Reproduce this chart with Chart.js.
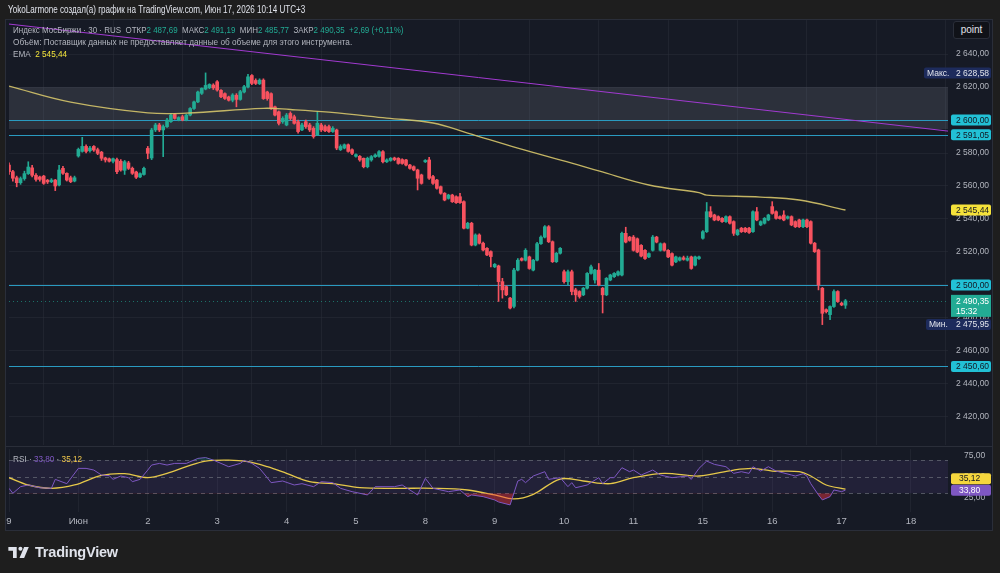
<!DOCTYPE html>
<html><head><meta charset="utf-8">
<script src="https://cdn.jsdelivr.net/npm/chart.js@4.4.1/dist/chart.umd.min.js"></script>
<style>
html,body{margin:0;padding:0;background:#1e1e1e;width:1000px;height:573px;overflow:hidden;font-family:"Liberation Sans",Arial,sans-serif;}
#panel{position:absolute;left:5px;top:19px;width:988px;height:512px;background:#161a25;border:1px solid #2a2e39;box-sizing:border-box}
#sep{position:absolute;left:5px;top:446px;width:988px;height:1px;background:#2a2e39}
canvas{position:absolute;left:0}
.t{position:absolute;white-space:nowrap;transform-origin:0 50%;}
</style></head><body>
<div id="panel"></div>
<div id="sep"></div>
<canvas id="main" width="1000" height="425" style="top:20px"></canvas>
<canvas id="rsi" width="1000" height="84" style="top:447px"></canvas>

<div class="t" style="left:8px;top:4px;font-size:10px;color:#e0e3eb;transform:scaleX(0.81)">YokoLarmone создал(а) график на TradingView.com, Июн 17, 2026 10:14 UTC+3</div>
<div class="t" style="left:13px;top:24px;font-size:9.5px;color:#b2b5be;transform:scaleX(0.84)">Индекс МосБиржи · 30 · RUS&nbsp; ОТКР<span style="color:#22ab94">2 487,69</span>&nbsp; МАКС<span style="color:#22ab94">2 491,19</span>&nbsp; МИН<span style="color:#22ab94">2 485,77</span>&nbsp; ЗАКР<span style="color:#22ab94">2 490,35</span>&nbsp; <span style="color:#22ab94">+2,69 (+0,11%)</span></div>
<div class="t" style="left:13px;top:36px;font-size:9.5px;color:#b2b5be;transform:scaleX(0.865)">Объём: Поставщик данных не предоставляет данные об объеме для этого инструмента.</div>
<div class="t" style="left:13px;top:48px;font-size:9.5px;color:#b2b5be;transform:scaleX(0.86)">EMA&nbsp; <span style="color:#f2e33b">2 545,44</span></div>
<div class="t" style="left:13px;top:453px;font-size:9.5px;color:#b2b5be;transform:scaleX(0.86)">RSI · <span style="color:#7e57c2">33,80</span> · <span style="color:#f2c94c">35,12</span></div>
<div class="t" style="left:953px;top:21px;width:37px;height:18px;background:#101218;border:1px solid #2a2e39;border-radius:3px;box-sizing:border-box;color:#e0e3eb;font-size:10px;text-align:center;line-height:16px">point</div>
<div class="t" style="left:8px;top:543px;height:18px;display:flex;align-items:center;">
<svg width="23" height="13" viewBox="0 0 24 14"><path d="M0 1h9v12H5V5H0z" fill="#e0e3eb"/><circle cx="13" cy="3" r="2.2" fill="#e0e3eb"/><path d="M17 1h5l-5 12h-5z" fill="#e0e3eb"/></svg>
<span style="margin-left:4px;font-size:14.5px;font-weight:bold;color:#e0e3eb;letter-spacing:-0.2px">TradingView</span></div>

<script>
// ---- data ----
const dayIdx = [0,18,36,54,72,90,108,126,144,162,180,198,216,234];
const dayLabels = ['9','Июн','2','3','4','5','8','9','10','11','15','16','17','18'];

const open = [
2572.7,2568.7,2565,2562,2564.5,2567.5,2571,2566.5,2565.5,2566,2563.5,2562.6,2563.6,2560.6,2570.7,2567.7,2565,2563,
2578.2,2581,2584,2581.4,2584,2582,2580.5,2577,2576.5,2575,2576,2575,2569.5,2574,2570.7,2568.5,2565.5,2567,
2582.8,2577,2594,2597,2594,2596,2599,2603.4,2600,2602,2600,2603,2607,2611,2616.2,2618.8,2619.6,2621.2,
2623.2,2618,2616,2614,2612,2615,2612.5,2617,2620,2627,2624,2622,2624.2,2617,2616,2608,2605,2599,
2597,2604,2602,2599,2594,2599,2597,2595,2591,2597,2596,2596,2593,2594,2582,2583,2585,2582,
2578,2578,2576.8,2571.7,2575.8,2577.8,2578,2580.8,2574.7,2575.5,2577,2576.8,2576,2575.8,2572.7,2571.7,2569.7,2566.7,
2574.7,2575.8,2565.7,2563.6,2559.6,2555.6,2552.5,2554.5,2553.5,2553.5,2550.5,2534.4,2537.4,2524.2,2530.3,2525.3,2522.2,2520.2,
2511,2511.5,2502,2499,2492,2487,2509,2516,2515,2517,2509,2515,2525,2529,2535.3,2526.2,2514.1,2519.2,
2508,2502,2508,2497,2496,2494,2498,2507,2503,2509,2498,2494,2503,2505,2506,2506,2531.3,2529,
2529,2528,2524,2521,2517,2521,2529,2521,2525,2521,2519,2514,2515,2516.5,2515,2517,2512,2516,
2528.3,2532.3,2544.4,2542.4,2541.4,2540.4,2538.4,2541.4,2538.4,2530.5,2534.4,2534.4,2534.4,2532.3,2544.4,2536.4,2537.4,2539.4,
2547.5,2544.4,2541.4,2542.4,2540.4,2541.4,2538.4,2539.4,2535.3,2539.4,2538.4,2525.3,2521.2,2498,2485,2482,2486.9,2496,
2488.9,2487.69];

const high = [
2574,2569.5,2566,2565.5,2569,2574.7,2572.5,2567.5,2566,2566.5,2564,2564.5,2564,2572.5,2572,2568,2566,2566,
2583,2589.5,2585,2584,2584.5,2583,2581,2577.5,2577,2577,2577,2576,2575.5,2575,2571.5,2569,2568,2571.5,
2584,2595,2598,2598,2597,2601,2604,2604,2602,2603,2603.5,2607.5,2611.5,2617.5,2619.5,2628.58,2622,2622,
2624,2618.5,2616.5,2614.5,2616,2616,2618,2621,2627.7,2627.5,2625,2625,2625,2617.5,2616.5,2608.5,2605.5,2602,
2604,2605,2603,2600,2598,2600,2598,2596,2605,2598,2597,2597,2596,2594.5,2585,2585.5,2585.5,2582.5,
2579.5,2578.5,2577,2577.5,2578.5,2579.5,2581.5,2581.5,2576.5,2577.3,2577.5,2577.2,2576.5,2576.2,2573.2,2572.2,2570.2,2567.2,
2576,2577.4,2566.5,2564,2560,2556,2555,2555,2554,2555.5,2551,2538,2538,2531,2531,2526,2522.7,2520.7,
2513,2512,2504,2499.5,2492.5,2510,2516,2516.5,2522,2517.5,2515.5,2525.8,2529.8,2536,2536,2526.7,2519.7,2522.7,
2509,2509,2509,2498,2496.5,2498.5,2507.5,2512,2509.5,2513,2498.5,2504.5,2506.5,2507.5,2508.5,2532,2535,2529.5,
2530,2528.5,2524.5,2521.5,2519.5,2530,2529.5,2525.5,2525.5,2521.5,2519.5,2517.5,2517,2517.5,2517.5,2517.5,2517.5,2517.5,
2533,2550,2547.5,2542.9,2541.9,2540.9,2541.9,2541.9,2538.9,2533.8,2534.9,2534.9,2534.9,2545,2547,2538.9,2540.9,2542.9,
2550.5,2544.9,2541.9,2545,2541.9,2541.9,2538.9,2539.9,2539.9,2539.9,2538.9,2525.8,2521.7,2498.5,2485.5,2487.4,2497,2496.5,
2489.5,2491.19];

const low = [
2567,2563,2559.5,2561,2563.5,2567,2565.5,2563,2563,2561,2561.5,2562,2557.2,2560,2567,2563,2562,2562.5,
2577.5,2580.5,2580,2580.5,2581,2579,2575.5,2574.5,2574.5,2574,2567.5,2569,2567,2570,2567,2564.5,2565,2566.5,
2576.5,2576,2593,2593,2577.8,2595.5,2598.5,2600.5,2599.5,2599.5,2599.5,2602.5,2606.5,2610.5,2615.5,2618.3,2619,2618.5,
2617.5,2613.5,2612.5,2611.5,2611,2608,2612,2616.5,2619.5,2621.5,2621.5,2621.5,2612.5,2612,2606.5,2602.5,2597,2598,
2596.5,2600,2597.5,2592,2593.5,2595,2593,2589,2590.5,2593,2593,2592.5,2592.5,2582,2581.5,2582.5,2580.5,2579,
2577.5,2575,2571,2571,2575,2577.3,2577.5,2574,2574.2,2575,2575.3,2573.2,2573.2,2572.2,2570.2,2569.2,2557.6,2561.1,
2574.2,2564,2561,2558,2555,2551,2552,2550,2549.4,2549.4,2534,2534,2523.7,2523.7,2524.8,2520.7,2517.7,2511,
2510.5,2490,2492,2493.5,2485.5,2486,2508.5,2514.5,2514.5,2509.5,2508.5,2514.5,2524.5,2528.5,2525.7,2513.6,2513.6,2518.7,
2501,2500,2494,2490,2492,2493.5,2497.5,2506.5,2501,2499.5,2483,2493.5,2502.5,2504.5,2505.5,2505.5,2525.5,2526.5,
2520.5,2519.5,2517,2515.5,2516.5,2520.5,2525.5,2520.5,2520.5,2516.5,2511.5,2513.5,2514.5,2515,2514.5,2509.5,2511.5,2515.5,
2527.8,2531.8,2540.9,2538.9,2538.9,2537.9,2537.9,2536.9,2530,2530,2531.8,2531.8,2531.3,2531.8,2538.9,2535.9,2536.9,2538.9,
2542.9,2539.9,2539.9,2538.9,2539.9,2535.9,2534.8,2534.8,2534.8,2534.8,2524.8,2519.7,2497,2475.95,2483,2479,2486.4,2489.4,
2487.4,2485.77];

const close = [
2568.7,2564.7,2562,2564.5,2567.5,2571.5,2566.5,2564,2564,2561.6,2562.5,2563.6,2560,2569.7,2567.7,2563.6,2562.6,2565,
2582.2,2584,2581,2583,2581.8,2579.8,2576.8,2575.8,2575,2576.5,2568.7,2569.7,2574.7,2570.7,2567.7,2565.3,2567.5,2570.7,
2579.8,2594,2597,2594,2596,2600,2603,2601,2601.5,2600,2603,2607,2611,2617,2619.2,2621,2621.6,2619.5,
2618.2,2614.1,2613.1,2612,2615.2,2612.5,2617.2,2620.2,2626.2,2622.2,2622.2,2624.2,2613,2613,2607,2603,2598,2601,
2603,2601,2598,2593,2597,2596,2594,2590,2598,2594,2593.5,2593,2595,2583,2584,2585,2581,2579.8,
2579,2575.8,2571.7,2576.8,2577.8,2578.8,2580.8,2574.7,2575.8,2576.8,2576,2573.7,2573.7,2572.7,2570.7,2569.7,2564.7,2561.6,
2575.5,2564.7,2561.6,2558.6,2555.6,2551.5,2554.5,2550.5,2549.9,2549.9,2534.4,2537.4,2524.2,2530.3,2525.3,2521.2,2518.2,2517.2,
2512.5,2502,2497,2494,2486,2509,2515,2515,2521,2510,2515,2525,2529,2535.3,2526.2,2514.1,2519.2,2522.2,
2502,2508,2496,2494,2493,2498,2507,2511,2509,2500,2494,2504,2506,2507,2508,2531.3,2526,2527,
2521,2520,2517.5,2516,2519,2529,2526,2525,2521,2517,2512,2517,2516.5,2515.5,2516.2,2510,2517,2517,
2532.3,2544.4,2541.4,2539.4,2539.4,2538.4,2541.4,2537.4,2531.3,2533.3,2532.3,2532.3,2531.8,2544.4,2539.4,2538.4,2540.4,2542.4,
2543.4,2540.4,2540.2,2539.4,2541.4,2536.4,2535.3,2535.3,2539.4,2535.3,2525.3,2520.2,2500,2482.8,2483.8,2486.9,2496,2489.9,
2487.9,2490.35];

const emaIdx = [0,16,36,46,66,73,83,98,110,119,132,146,153,166,179,181,195,205,217];
const emaVal = [2620.6,2610.9,2604.4,2604.2,2607.1,2606.4,2604.8,2601.2,2598.2,2592.1,2583.0,2573.9,2569.1,2560.6,2556,2554.5,2553.3,2551.5,2545.44];

const rsiIdx = [0,1,3,5,8,11,12,15,18,20,22,24,26,27,29,31,32,34,36,37,39,41,43,46,49,51,53,55,57,60,61,63,65,67,68,71,74,76,79,81,84,86,89,93,95,100,102,106,108,110,114,117,119,120,123,126,127,130,132,133,134,136,139,140,143,145,146,147,150,153,154,156,157,159,161,162,164,167,169,172,176,177,179,181,183,186,188,190,192,193,195,197,199,203,204,206,207,208,210,211,213,214,216,217];
const rsiVal = [36,30,38,40,36.7,36,46.8,41.6,60,60,58,52,51.2,46.8,50.8,48.8,44,46.8,58,64,66,64,66,66,72,73,70,66,62,66,69.5,66,60,48.8,42.8,44.8,40,41.6,38,44,42.8,36,32,28,38,38,40,28,48,36,32,34,26,28,26,22,19.6,16,44.8,46.8,42.8,50.8,56,46.8,48.8,38,42.8,36.7,40,48.8,41.6,48.8,48.8,60.8,56,58,52,58,52,48.8,50.8,46.8,60,68.8,64.8,62,54,56,54,62,56.8,62,56.8,52,50.8,53.6,50.8,41.6,28,22,26,34,32,33.8];

const rsiMaIdx = [0,5,11,17,24,30,36,41,46,51,57,62,67,72,78,84,91,101,110,119,126,131,136,143,149,156,162,170,179,188,193,198,205,208,212,217];
const rsiMaVal = [48.8,40,36,40,51.6,53.6,48.8,54,62,68.8,70,68,62,54,44,41.6,36.8,36,36,34,28,23.2,28.8,47.2,44.8,41.6,48.8,54,50.8,58,60,56.8,56,50.8,40,35.12];

const levels = [2600, 2591.05, 2500, 2450.6];
const zoneTop = 2620, zoneBottom = 2594.5;
const trendStart = 2658.2, trendEnd = 2593.3;
const lastPrice = 2490.35, lastTime = '15:32', emaLast = 2545.44, maxPrice = 2628.58, minPrice = 2475.95;
const rsiLast = 33.80, rsiMaLast = 35.12;
const rsiBands = [70, 50, 30];
const priceTicks = [2420,2440,2460,2480,2500,2520,2540,2560,2580,2600,2620,2640];
const rsiTicks = [25,50,75];
const X_MAX = 243.6;

// ---- styling ----
const UP = '#22ab94', DN = '#f7525f', GRID = 'rgba(42,46,57,0.55)', TXT = '#b2b5be';
const LEVEL = '#2a9ac0';
const LBL_FONT = '8.5px "Liberation Sans", Arial, sans-serif';
Chart.defaults.font.family = '"Liberation Sans", Arial, sans-serif';

function fmt(v){
  const s = Number(v).toFixed(2).split('.');
  const i = s[0];
  const g = i.length > 3 ? i.slice(0, -3) + ' ' + i.slice(-3) : i;
  return g + ',' + s[1];
}

const colors = open.map((o, i) => close[i] >= o ? UP : DN);

function box(ctx, x, yc, w, h, bg, lines, fg){
  ctx.fillStyle = bg;
  ctx.beginPath();
  if (ctx.roundRect) ctx.roundRect(x, yc - h/2, w, h, 2); else ctx.rect(x, yc - h/2, w, h);
  ctx.fill();
  ctx.fillStyle = fg;
  ctx.font = LBL_FONT;
  ctx.textBaseline = 'middle';
  lines.forEach(l => { ctx.textAlign = 'left'; ctx.fillText(l.t, l.x, l.y); });
}

const mainDeco = {
  id: 'mainDeco',
  beforeDatasetsDraw(chart){
    const {ctx, chartArea: a, scales: {y}} = chart;
    ctx.save();
    ctx.fillStyle = 'rgba(125,128,140,0.22)';
    const t = y.getPixelForValue(zoneTop), b = y.getPixelForValue(zoneBottom);
    ctx.fillRect(a.left, t, a.right - a.left, b - t);
    ctx.lineWidth = 1;
    levels.forEach(v => {
      const py = Math.round(y.getPixelForValue(v)) + 0.5;
      ctx.strokeStyle = LEVEL;
      ctx.beginPath(); ctx.moveTo(a.left, py); ctx.lineTo(a.right, py); ctx.stroke();
    });
    ctx.setLineDash([1, 3]);
    ctx.strokeStyle = 'rgba(34,171,148,0.6)';
    const py = Math.round(y.getPixelForValue(lastPrice)) + 0.5;
    ctx.beginPath(); ctx.moveTo(a.left, py); ctx.lineTo(a.right, py); ctx.stroke();
    ctx.restore();
  },
  afterDraw(chart){
    const {ctx, chartArea: a, scales: {y}} = chart;
    ctx.save();
    const bx = a.right + 3, bw = 40, tx = a.right + 8;
    const CY = '#22c1d6';
    levels.forEach(v => box(ctx, bx, y.getPixelForValue(v), bw, 11, CY, [{t: fmt(v), x: tx, y: y.getPixelForValue(v) + 0.5}], '#131722'));
    const ye = y.getPixelForValue(emaLast);
    box(ctx, bx, ye, bw, 11, '#f5e23a', [{t: fmt(emaLast), x: tx, y: ye + 0.5}], '#131722');
    const ym = y.getPixelForValue(maxPrice);
    box(ctx, a.right - 24, ym, bw + 27, 11, '#1d2b5c', [{t: 'Макс.', x: a.right - 21, y: ym + 0.5}, {t: fmt(maxPrice), x: tx, y: ym + 0.5}], '#e0e3eb');
    const yn = y.getPixelForValue(minPrice);
    box(ctx, a.right - 22, yn, bw + 25, 11, '#1d2b5c', [{t: 'Мин.', x: a.right - 19, y: yn + 0.5}, {t: fmt(minPrice), x: tx, y: yn + 0.5}], '#e0e3eb');
    const yl = y.getPixelForValue(lastPrice);
    ctx.fillStyle = UP;
    ctx.fillRect(bx, yl - 6, bw, 22);
    ctx.fillStyle = '#ffffff';
    ctx.font = LBL_FONT;
    ctx.textBaseline = 'middle'; ctx.textAlign = 'left';
    ctx.fillText(fmt(lastPrice), tx, yl + 0.5);
    ctx.fillText(lastTime, tx, yl + 11);
    ctx.restore();
  }
};

function mainCfg(){
  return {
    type: 'bar',
    data: {datasets: [
      {type: 'line', data: [{x: 0, y: trendStart}, {x: X_MAX, y: trendEnd}], borderColor: '#a23ad1', borderWidth: 1, pointRadius: 0, order: 0},
      {type: 'line', data: emaIdx.map((x, i) => ({x, y: emaVal[i]})), borderColor: 'rgba(214,197,106,0.9)', borderWidth: 1.3, pointRadius: 0, tension: 0.4, order: 1},
      {data: open.map((o, i) => ({x: i, y: [o, close[i]]})), backgroundColor: colors, barThickness: 3, grouped: false, order: 2},
      {data: open.map((o, i) => ({x: i, y: [low[i], high[i]]})), backgroundColor: colors, barThickness: 1, grouped: false, order: 3}
    ]},
    options: {
      responsive: false, animation: false, devicePixelRatio: 1,
      layout: {padding: {left: 9, right: 8, top: 0, bottom: 0}},
      plugins: {legend: {display: false}, tooltip: {enabled: false}},
      scales: {
        x: {type: 'linear', min: 0, max: X_MAX, offset: false,
            afterBuildTicks: s => { s.ticks = dayIdx.map(v => ({value: v})); },
            ticks: {display: false}, grid: {color: GRID, drawTicks: false}, border: {display: false}},
        y: {position: 'right', min: 2403, max: 2660.6,
            afterBuildTicks: s => { s.ticks = priceTicks.map(v => ({value: v})); },
            afterFit: s => { s.width = 44; },
            ticks: {color: TXT, font: {size: 8.5}, padding: 8, crossAlign: 'near', callback: v => fmt(v)},
            grid: {color: GRID, drawTicks: false}, border: {display: false}}
      }
    },
    plugins: [mainDeco]
  };
}

const rsiDeco = {
  id: 'rsiDeco',
  beforeDatasetsDraw(chart){
    const {ctx, chartArea: a, scales: {y}} = chart;
    ctx.save();
    const t = y.getPixelForValue(rsiBands[0]), b = y.getPixelForValue(rsiBands[2]);
    ctx.fillStyle = 'rgba(126,87,194,0.12)';
    ctx.fillRect(a.left, t, a.right - a.left, b - t);
    ctx.setLineDash([4, 4]);
    ctx.strokeStyle = 'rgba(120,123,134,0.6)'; ctx.lineWidth = 1;
    rsiBands.forEach(v => {
      const py = Math.round(y.getPixelForValue(v)) + 0.5;
      ctx.beginPath(); ctx.moveTo(a.left, py); ctx.lineTo(a.right, py); ctx.stroke();
    });
    ctx.restore();
  },
  afterDraw(chart){
    const {ctx, chartArea: a, scales: {y}} = chart;
    ctx.save();
    const bx = a.right + 3, bw = 40, tx = a.right + 11;
    const yr = y.getPixelForValue(rsiLast);
    box(ctx, bx, yr, bw, 11, '#7e57c2', [{t: rsiLast.toFixed(2).replace('.', ','), x: tx, y: yr + 0.5}], '#ffffff');
    const ym = yr - 11.5;
    box(ctx, bx, ym, bw, 11, '#f5d63d', [{t: rsiMaLast.toFixed(2).replace('.', ','), x: tx, y: ym + 0.5}], '#131722');
    ctx.restore();
  }
};

function rsiCfg(){
  const pts = rsiIdx.map((x, i) => ({x, y: rsiVal[i]}));
  return {
    type: 'line',
    data: {datasets: [
      {data: pts, borderColor: 'rgba(0,0,0,0)', borderWidth: 0, pointRadius: 0,
       fill: {target: {value: 70}, above: 'rgba(34,171,148,0.22)', below: 'rgba(0,0,0,0)'}},
      {data: pts, borderColor: '#7e57c2', borderWidth: 1, pointRadius: 0, tension: 0,
       fill: {target: {value: 30}, above: 'rgba(0,0,0,0)', below: 'rgba(242,54,69,0.45)'}},
      {data: rsiMaIdx.map((x, i) => ({x, y: rsiMaVal[i]})), borderColor: '#e6c84a', borderWidth: 1.3, pointRadius: 0, tension: 0.35, fill: false}
    ]},
    options: {
      responsive: false, animation: false, devicePixelRatio: 1,
      layout: {padding: {left: 9, right: 8, top: 0, bottom: 0}},
      plugins: {legend: {display: false}, tooltip: {enabled: false}},
      scales: {
        x: {type: 'linear', min: 0, max: X_MAX, offset: false,
            afterBuildTicks: s => { s.ticks = dayIdx.map(v => ({value: v})); },
            afterFit: s => { s.height = 19; },
            ticks: {color: TXT, font: {size: 9.5}, padding: 4, autoSkip: false, maxRotation: 0,
                    callback: v => { const k = dayIdx.indexOf(v); return k >= 0 ? dayLabels[k] : ''; }},
            grid: {color: GRID, drawTicks: false}, border: {display: false}},
        y: {position: 'right', min: 7.5, max: 83.2,
            afterBuildTicks: s => { s.ticks = rsiTicks.map(v => ({value: v})); },
            afterFit: s => { s.width = 44; },
            ticks: {color: TXT, font: {size: 8.5}, padding: 8, crossAlign: 'near', callback: v => fmt(v)},
            grid: {display: false}, border: {display: false}}
      }
    },
    plugins: [rsiDeco]
  };
}

// place each chart so its plot area lands on the wanted page rows
function mount(id, makeCfg, plotTop, plotBottom){
  const cv = document.getElementById(id);
  const H0 = 400;
  cv.width = 1000; cv.height = H0; cv.style.width = '1000px'; cv.style.height = H0 + 'px';
  let ch = new Chart(cv, makeCfg());
  const it = ch.chartArea.top, ib = H0 - ch.chartArea.bottom;
  ch.destroy();
  const H = Math.round(plotBottom - plotTop + it + ib);
  cv.width = 1000; cv.height = H; cv.style.width = '1000px'; cv.style.height = H + 'px';
  cv.style.top = Math.round(plotTop - it) + 'px';
  return new Chart(cv, makeCfg());
}

mount('main', mainCfg, 20, 445);
mount('rsi', rsiCfg, 449, 512);
</script>
</body></html>
